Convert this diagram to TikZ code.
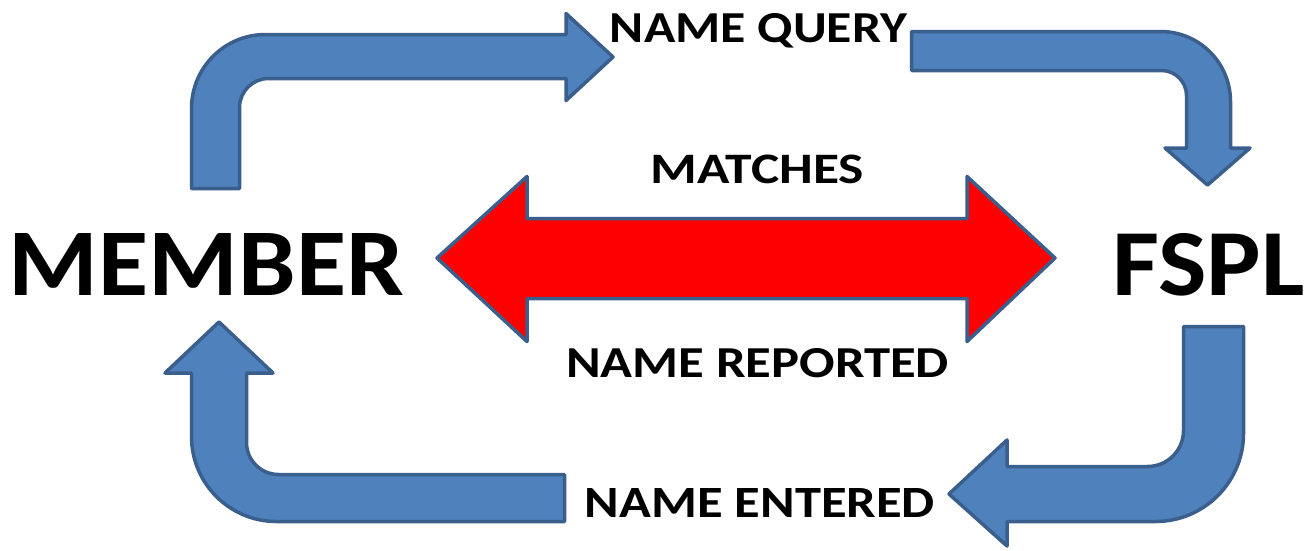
\documentclass[tikz,border=0pt]{standalone}
\usepackage{fontspec}
\setmainfont{Carlito}
\usepackage{graphicx}
\definecolor{blfill}{HTML}{4F81BD}
\definecolor{blline}{HTML}{3A5F8C}
\definecolor{redfill}{HTML}{FF0000}
\begin{document}
\begin{tikzpicture}[x=1pt,y=-1pt,
  blarrow/.style={fill=blfill,draw=blline,line width=3.5pt,line join=round},
  redarrow/.style={fill=redfill,draw=blline,line width=3.5pt,line join=round},
  lbl/.style={inner sep=0pt,anchor=base,font=\bfseries,text=black}]
\useasboundingbox[fill=white] (0,0) rectangle (1304,550);

% top-left bent arrow (MEMBER -> NAME QUERY)
\draw[blarrow] (191.5,188.5) -- (191.5,108.5)
  .. controls (191.5,67.6) and (224.6,34.5) .. (265.5,34.5)
  -- (566,34.5) -- (566,13.5) -- (613,57) -- (566,100.5) -- (566,78.5)
  -- (268.5,78.5)
  .. controls (252.5,78.5) and (239.5,91.5) .. (239.5,107.5)
  -- (239.5,188.5) -- cycle;

% top-right bent arrow (NAME QUERY -> FSPL)
\draw[blarrow] (911.5,31.5) -- (1160.5,31.5)
  .. controls (1199.2,31.5) and (1230.5,62.8) .. (1230.5,101.5)
  -- (1230.5,148) -- (1250,148) -- (1207.5,185) -- (1165,148) -- (1186.5,148)
  -- (1186.5,95.5)
  .. controls (1186.5,81.7) and (1175.3,70.5) .. (1161.5,70.5)
  -- (911.5,70.5) -- cycle;

% bottom-right bent arrow (FSPL -> NAME ENTERED)
\draw[blarrow] (1243.5,326.5) -- (1243.5,433.5)
  .. controls (1243.5,482.1) and (1204.1,521.5) .. (1155.5,521.5)
  -- (1007,521.5) -- (1007,546) -- (949,494) -- (1007,440) -- (1007,466.5)
  -- (1147.5,466.5)
  .. controls (1167.4,466.5) and (1183.5,450.4) .. (1183.5,430.5)
  -- (1183.5,326.5) -- cycle;

% bottom-left bent arrow (NAME ENTERED -> MEMBER)
\draw[blarrow] (564.5,521.5) -- (276.5,521.5)
  .. controls (229.6,521.5) and (191.5,483.4) .. (191.5,436.5)
  -- (191.5,373) -- (165,373) -- (219,322) -- (273,373) -- (246.5,373)
  -- (246.5,442.5)
  .. controls (246.5,460.2) and (260.8,474.5) .. (278.5,474.5)
  -- (564.5,474.5) -- cycle;

% red double arrow
\draw[redarrow] (437,258) -- (527,176.5) -- (527,218.5) -- (967,218.5)
  -- (967,176.5) -- (1055,258) -- (967,341.5) -- (967,298.5)
  -- (527,298.5) -- (527,341.5) -- cycle;

% labels
\node[lbl] (nq)  at (758.5,42)  {\resizebox{297pt}{29pt}{NAME QUERY}};
\node[lbl] (ma)  at (757.5,183) {\resizebox{213pt}{28.5pt}{MATCHES}};
\node[lbl] (nr)  at (757.5,377) {\resizebox{383pt}{29pt}{NAME REPORTED}};
\node[lbl] (ne)  at (760,517)   {\resizebox{350pt}{29pt}{NAME ENTERED}};
\node[lbl] (mem) at (206.5,295) {\resizebox{395pt}{62pt}{MEMBER}};
\node[lbl] (fs)  at (1208.5,295){\resizebox{192pt}{62pt}{FSPL}};
\end{tikzpicture}
\end{document}
